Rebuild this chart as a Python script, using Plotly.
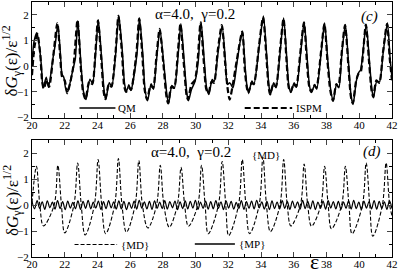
import plotly.graph_objects as go
import numpy as np

# ---------------- data ----------------
qm_x = [20.00, 20.12, 20.30, 20.45, 20.57, 20.68, 20.87, 21.01, 21.27, 21.42, 21.58, 21.74, 21.83, 21.95, 22.05, 22.18,
        22.39, 22.55, 22.65, 22.80, 22.99, 23.14, 23.30, 23.54, 23.70, 23.90, 24.05, 24.24, 24.41, 24.51, 24.72, 24.87,
        25.11, 25.30, 25.52, 25.66, 25.78, 25.92, 26.04, 26.41, 26.57, 26.78, 26.90, 27.06, 27.28, 27.42, 27.62, 27.82,
        28.04, 28.25, 28.35, 28.55, 28.70, 28.95, 29.10, 29.30, 29.47, 29.56, 29.75, 29.97, 30.16, 30.33, 30.53, 30.67,
        30.81, 31.01, 31.13, 31.38, 31.62, 31.82, 31.94, 32.09, 32.28, 32.54, 32.85, 33.03, 33.15, 33.24, 33.44, 33.56,
        33.90, 34.14, 34.34, 34.47, 34.57, 34.77, 34.91, 35.17, 35.38, 35.58, 35.70, 35.82, 36.02, 36.16, 36.43, 36.63,
        36.83, 36.96, 37.08, 37.28, 37.40, 37.68, 37.88, 38.08, 38.25, 38.41, 38.61, 38.75, 38.95, 39.15, 39.35, 39.50,
        39.62, 39.82, 39.96, 40.08, 40.42, 40.62, 40.77, 40.87, 41.07, 41.23, 41.47, 41.72, 41.88, 42.00]
qm_y = [0.05, 0.95, 1.30, 0.75, 0.05, -0.85, -0.43, -0.82, 0.26, 0.84, 1.62, 0.45, -0.30, -0.45, -0.85, -1.00,
        -0.45, 0.00, 0.30, 1.77, 0.10, -0.97, -1.30, -0.51, -0.68, 0.58, 1.81, 0.45, -0.97, -1.30, -0.65, -0.80,
        0.45, 1.98, 0.58, -0.70, -0.97, -0.72, -0.95, 0.45, 1.88, 0.38, -0.85, -1.35, -0.68, -0.90, 0.30, 1.43,
        0.20, -1.15, -1.45, -0.75, -0.85, 0.58, 1.65, 0.20, -1.10, -1.35, -0.90, -0.58, 0.20, 1.73, 0.20, -0.84,
        -1.10, -0.52, -0.60, 0.58, 1.56, 0.20, -0.71, -0.65, -0.84, 0.20, 1.36, -0.06, -0.84, -1.03, -0.58, -0.71,
        0.84, 1.95, 0.45, -0.71, -1.10, -0.65, -0.84, 0.58, 1.88, 0.20, -0.78, -1.03, -0.65, -0.82, 0.58, 1.72,
        0.20, -0.78, -1.03, -0.71, -0.90, 0.58, 1.68, 0.20, -0.90, -1.36, -0.71, -0.84, 0.58, 1.62, 0.07, -1.17,
        -1.49, -0.58, -0.25, -0.15, 1.60, 0.20, -0.90, -1.23, -0.58, -0.62, 0.58, 1.68, 0.33, -0.45]

ispm_x = [20.00, 20.15, 20.33, 20.50, 20.62, 20.72, 20.90, 21.05, 21.30, 21.55, 21.72, 21.85, 22.00, 22.15, 22.35, 22.55,
          22.78, 22.97, 23.12, 23.27, 23.50, 23.68, 23.88, 24.03, 24.22, 24.38, 24.48, 24.70, 24.85, 25.10, 25.28, 25.50,
          25.64, 25.75, 25.95, 26.05, 26.38, 26.55, 26.75, 26.88, 27.03, 27.25, 27.40, 27.60, 27.80, 28.02, 28.22, 28.32,
          28.52, 28.68, 28.92, 29.07, 29.27, 29.45, 29.53, 29.75, 29.95, 30.13, 30.30, 30.50, 30.65, 30.78, 30.98, 31.12,
          31.35, 31.60, 31.80, 31.95, 32.08, 32.25, 32.52, 32.85, 33.00, 33.12, 33.22, 33.42, 33.55, 33.88, 34.12, 34.32,
          34.45, 34.55, 34.75, 34.90, 35.15, 35.37, 35.56, 35.68, 35.80, 36.00, 36.14, 36.40, 36.62, 36.80, 36.94, 37.06,
          37.26, 37.38, 37.66, 37.87, 38.06, 38.23, 38.39, 38.60, 38.72, 38.93, 39.13, 39.33, 39.48, 39.60, 39.80, 39.95,
          40.08, 40.40, 40.60, 40.75, 40.85, 41.05, 41.22, 41.45, 41.70, 41.86, 42.00]
ispm_y = [-0.35, 0.75, 1.25, 0.50, -0.60, -0.88, -0.55, -0.80, 0.40, 1.68, 0.40, -0.45, -0.55, -1.05, -0.60, 0.10,
          1.80, 0.05, -1.00, -1.28, -0.60, -0.70, 0.60, 1.78, 0.40, -1.00, -1.28, -0.70, -0.80, 0.50, 1.95, 0.50,
          -0.80, -1.00, -0.85, -0.92, 0.50, 1.85, 0.35, -0.90, -1.30, -0.75, -0.85, 0.35, 1.45, 0.15, -1.20, -1.45,
          -0.80, -0.85, 0.60, 1.65, 0.15, -1.15, -1.30, -0.70, -0.55, 0.30, 1.70, 0.15, -0.90, -1.05, -0.60, -0.65,
          0.60, 1.60, 0.15, -0.85, -1.30, -0.80, 0.25, 1.35, -0.10, -0.80, -1.05, -0.65, -0.70, 0.85, 1.90, 0.40,
          -0.75, -1.10, -0.70, -0.80, 0.60, 1.85, 0.15, -0.80, -1.00, -0.70, -0.80, 0.55, 1.70, 0.15, -0.80, -1.00,
          -0.75, -0.85, 0.55, 1.65, 0.15, -0.95, -1.35, -0.70, -0.80, 0.55, 1.60, 0.05, -1.15, -1.45, -0.60, -0.30,
          -0.25, 1.62, 0.15, -0.95, -1.20, -0.55, -0.65, 0.55, 1.65, 0.30, -0.55]

md_x = [20.00, 20.27, 20.48, 20.70, 21.35, 21.58, 21.80, 22.00, 22.56, 22.79, 23.01, 23.25, 23.81, 24.04, 24.26, 24.50,
        25.05, 25.28, 25.50, 25.77, 26.30, 26.53, 26.75, 27.08, 27.61, 27.84, 28.06, 28.39, 28.88, 29.11, 29.33, 29.56,
        30.13, 30.36, 30.58, 30.77, 31.39, 31.62, 31.84, 32.02, 32.62, 32.85, 33.07, 33.30, 33.88, 34.11, 34.33, 34.57,
        35.15, 35.38, 35.60, 35.82, 36.40, 36.63, 36.85, 37.08, 37.65, 37.88, 38.10, 38.30, 38.92, 39.15, 39.37, 39.56,
        40.19, 40.42, 40.64, 40.83, 41.41, 41.64, 41.86, 42.00]
md_y = [0.10, 1.50, 0.00, -0.80, 0.00, 1.54, 0.00, -1.07, 0.00, 1.63, 0.00, -1.15, 0.00, 1.76, 0.00, -1.10,
        0.00, 1.80, 0.00, -1.04, 0.00, 1.72, 0.00, -0.88, 0.00, 1.54, 0.00, -0.85, 0.00, 1.46, 0.00, -0.81,
        0.00, 1.54, 0.00, -1.10, 0.00, 1.69, 0.00, -1.17, 0.00, 1.76, 0.00, -1.10, 0.00, 1.85, 0.00, -1.02,
        0.00, 1.76, 0.00, -0.80, 0.00, 1.59, 0.00, -0.81, 0.00, 1.50, 0.00, -0.91, 0.00, 1.50, 0.00, -1.10,
        0.00, 1.63, 0.00, -1.20, 0.00, 1.63, 0.00, -0.40]

mp_y = [0.15, -0.14, 0.18, -0.12, 0.13, -0.16, 0.17, -0.10, 0.12, -0.15, 0.18, -0.13, 0.14, -0.17, 0.16, -0.11,
        0.11, -0.14, 0.17, -0.16, 0.15, -0.12, 0.19, -0.14, 0.12, -0.11, 0.16, -0.16, 0.14, -0.13, 0.18, -0.10,
        0.13, -0.15, 0.17, -0.14, 0.15, -0.17, 0.11, -0.12, 0.16, -0.15, 0.19, -0.11, 0.13, -0.14, 0.15, -0.16,
        0.17, -0.12, 0.12, -0.13, 0.18, -0.15, 0.14, -0.10, 0.16, -0.17, 0.13, -0.13, 0.17, -0.14, 0.15, -0.11,
        0.19, -0.16, 0.12, -0.12, 0.16, -0.15, 0.14, -0.14, 0.18, -0.12, 0.13, -0.17, 0.17, -0.11, 0.15, -0.15,
        0.11, -0.13, 0.18, -0.16, 0.14, -0.12, 0.16, -0.14, 0.19, -0.10, 0.13, -0.15, 0.15, -0.17, 0.17, -0.13,
        0.12, -0.14, 0.18, -0.12, 0.14, -0.16, 0.16, -0.11, 0.13, -0.15, 0.19, -0.13, 0.15, -0.14, 0.17, -0.17,
        0.12, -0.12, 0.16, -0.15, 0.18, -0.11, 0.14, -0.14, 0.15, -0.16, 0.13, -0.12, 0.17, -0.15, 0.19, -0.13,
        0.12, -0.17, 0.16, -0.11, 0.14, -0.14, 0.18, -0.15, 0.15, -0.12, 0.13, -0.16, 0.17, -0.13]
mp_x = list(np.linspace(20.0, 42.0, len(mp_y)))

x_ticks = [20, 22, 24, 26, 28, 30, 32, 34, 36, 38, 40, 42]
y_ticks = [-2, -1, 0, 1, 2]

# ---------------- figure ----------------
SERIF = "Liberation Serif, Times New Roman, serif"
fig = go.Figure()

fig.add_trace(go.Scatter(x=qm_x, y=qm_y, mode="lines", xaxis="x", yaxis="y",
                         line=dict(color="black", width=1.5, shape="spline", smoothing=0.7)))
fig.add_trace(go.Scatter(x=ispm_x, y=ispm_y, mode="lines", xaxis="x", yaxis="y",
                         line=dict(color="black", width=2.2, dash="6px,3px", shape="spline", smoothing=0.7)))
fig.add_trace(go.Scatter(x=md_x, y=md_y, mode="lines", xaxis="x2", yaxis="y2",
                         line=dict(color="black", width=1.1, dash="4px,2px", shape="spline", smoothing=1.0)))
fig.add_trace(go.Scatter(x=mp_x, y=mp_y, mode="lines", xaxis="x2", yaxis="y2",
                         line=dict(color="black", width=1.2, shape="spline", smoothing=1.0)))

ax_common = dict(range=[20, 42], tickvals=x_ticks, ticks="inside", ticklen=5, tickwidth=1,
                 showline=True, linecolor="black", linewidth=1, mirror="allticks",
                 showgrid=False, zeroline=False, ticklabeloverflow="allow", ticklabelstandoff=-3,
                 tickfont=dict(family=SERIF, size=11, color="black"),
                 minor=dict(dtick=1, tick0=20, ticks="inside", ticklen=3, tickcolor="black"))
ay_common = dict(range=[-2, 2.5], tickvals=y_ticks, ticks="inside", ticklen=5, tickwidth=1,
                 showline=True, linecolor="black", linewidth=1, mirror="allticks",
                 showgrid=False, zeroline=False, ticklabeloverflow="allow",
                 tickfont=dict(family=SERIF, size=11, color="black"),
                 minor=dict(dtick=0.5, tick0=-2, ticks="inside", ticklen=3, tickcolor="black"))

fig.update_layout(
    width=399, height=274, margin=dict(l=32, r=4, t=1, b=17),
    paper_bgcolor="white", plot_bgcolor="white", showlegend=False,
    xaxis=dict(ax_common, domain=[0, 1], anchor="y"),
    yaxis=dict(ay_common, domain=[0.547, 1], anchor="x"),
    xaxis2=dict(ax_common, domain=[0, 1], anchor="y2"),
    yaxis2=dict(ay_common, domain=[0, 0.457], anchor="x2"),
)

# legend samples and labels
shapes = [
    dict(type="line", xref="x", yref="y", x0=22.9, x1=25.1, y0=-1.63, y1=-1.63, line=dict(color="black", width=1.5)),
    dict(type="line", xref="x", yref="y", x0=33.0, x1=35.9, y0=-1.63, y1=-1.63,
         line=dict(color="black", width=2.2, dash="6px,3px")),
    dict(type="line", xref="x2", yref="y2", x0=22.6, x1=25.2, y0=-1.52, y1=-1.52,
         line=dict(color="black", width=1.1, dash="4px,2px")),
    dict(type="line", xref="x2", yref="y2", x0=29.95, x1=32.4, y0=-1.5, y1=-1.5, line=dict(color="black", width=1.5)),
]
fig.update_layout(shapes=shapes)

def ann(text, x, y, xref, yref, size, xanchor="left", **kw):
    fig.add_annotation(text=text, x=x, y=y, xref=xref, yref=yref, showarrow=False,
                       xanchor=xanchor, yanchor="middle", font=dict(family=SERIF, size=size, color="black"), **kw)

ann("QM", 25.15, -1.63, "x", "y", 11)
ann("ISPM", 36.0, -1.63, "x", "y", 11)
ann("{MD}", 25.3, -1.52, "x2", "y2", 11)
ann("{MP}", 32.5, -1.5, "x2", "y2", 11)
ann("{MD}", 34.27, 1.95, "x2", "y2", 11, xanchor="center")
ann("α=4.0,  γ=0.2", 29.96, 2.02, "x", "y", 15, xanchor="center")
ann("α=4.0,  γ=0.2", 29.7, 2.07, "x2", "y2", 15, xanchor="center")
ann("<i>(c)</i>", 40.64, 1.95, "x", "y", 15, xanchor="center")
ann("<i>(d)</i>", 40.8, 2.07, "x2", "y2", 15, xanchor="center")
ann("δ<i>G</i><sub>γ</sub>(ε)/ε<sup>1/2</sup>", -0.056, 0.77, "paper", "paper", 17, xanchor="center", textangle=-90)
ann("δ<i>G</i><sub>γ</sub>(ε)/ε<sup>1/2</sup>", -0.056, 0.223, "paper", "paper", 17, xanchor="center", textangle=-90)
ann("ε", 0.786, -0.018, "paper", "paper", 22, xanchor="center")

fig.write_html("out.html", config={"displayModeBar": False},
               post_script="document.body.style.margin='0';document.body.style.overflow='hidden';")
